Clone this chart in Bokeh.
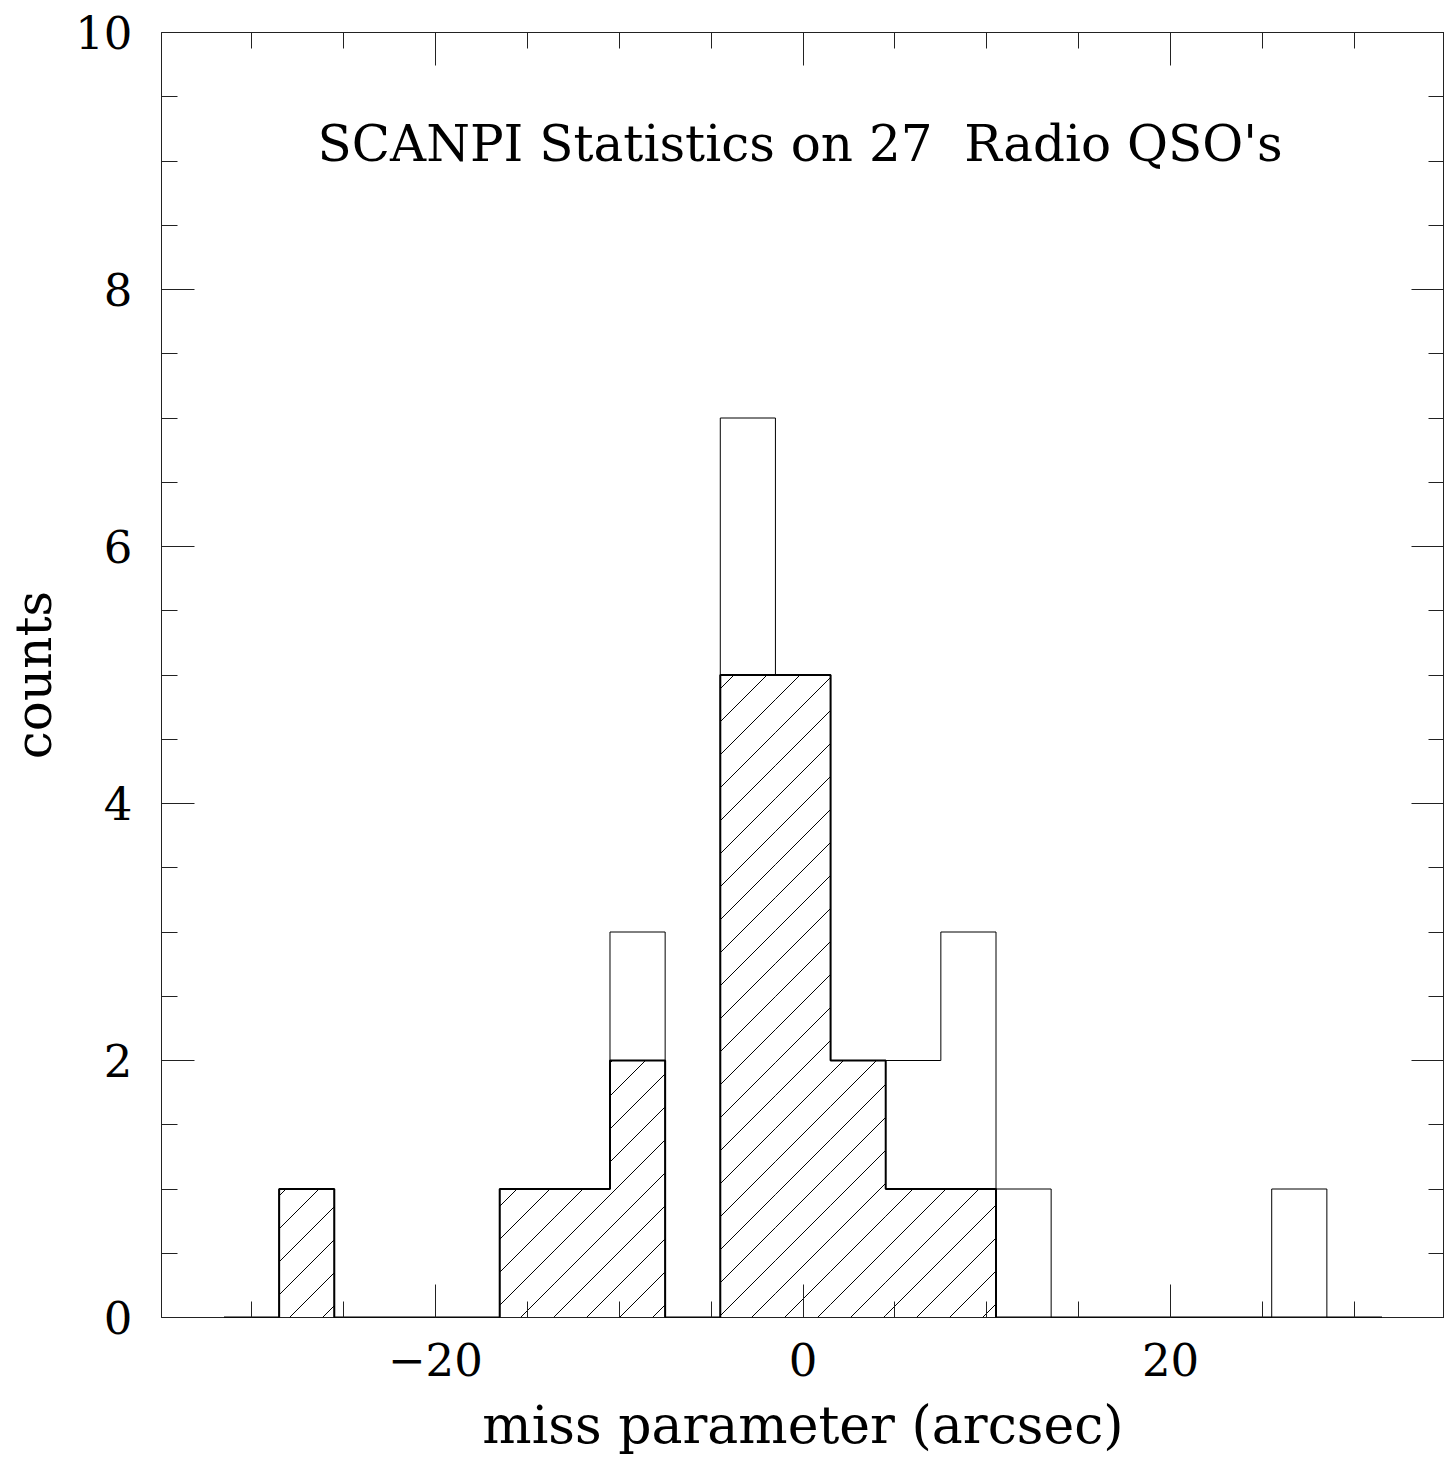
import math
from bokeh.plotting import figure
from bokeh.models import Range1d, LinearAxis, SingleIntervalTicker, Label
from bokeh.embed import file_html
from bokeh.resources import INLINE

# ---- data ----
bin_centers = [-30, -27, -24, -21, -18, -15, -12, -9, -6, -3, 0, 3, 6, 9, 12, 15, 18, 21, 24, 27, 30]
bin_width = 3
all_counts = [0, 1, 0, 0, 0, 1, 1, 3, 0, 7, 5, 2, 2, 3, 1, 0, 0, 0, 0, 1, 0]
hatched_counts = [0, 1, 0, 0, 0, 1, 1, 2, 0, 5, 5, 2, 1, 1, 0, 0, 0, 0, 0, 0, 0]
x_tick_labels = {-20: "\u221220", 0: "0", 20: "20"}
title_text = "SCANPI Statistics on 27\u00a0 Radio QSO's"
x_label = "miss parameter (arcsec)"
y_label = "counts"

FONT = "DejaVu Serif"
X0, X1 = -34.9, 34.9
Y0, Y1 = 0, 10
FW, FH = 1283, 1285

lefts = [c - bin_width / 2 for c in bin_centers]
rights = [c + bin_width / 2 for c in bin_centers]


def step_xy(counts):
    xs = [lefts[0]] + lefts + [rights[-1]]
    ys = [0] + list(counts) + [0]
    return xs, ys


# 45-degree hatch lines (in screen space) clipped to each hatched bar
sx = FW / (X1 - X0)
sy = FH / (Y1 - Y0)
spacing = 33.0
phase = 29.0
hx0, hy0, hx1, hy1 = [], [], [], []
for l, r, h in zip(lefts, rights, hatched_counts):
    if h <= 0:
        continue
    Xl, Xr, Yt = (l - X0) * sx, (r - X0) * sx, h * sy
    k = math.floor((Xl - Yt - phase) / spacing)
    while True:
        c = phase + k * spacing
        if c > Xr:
            break
        ylo = max(0.0, Xl - c)
        yhi = min(Yt, Xr - c)
        if yhi > ylo:
            hx0.append((c + ylo) / sx + X0)
            hy0.append(ylo / sy)
            hx1.append((c + yhi) / sx + X0)
            hy1.append(yhi / sy)
        k += 1

p = figure(frame_width=FW, frame_height=FH,
           x_range=Range1d(X0, X1), y_range=Range1d(Y0, Y1),
           output_backend="svg", toolbar_location=None,
           x_axis_location=None, y_axis_location=None,
           min_border_left=161, min_border_right=0, min_border_top=32, min_border_bottom=0)
p.background_fill_color = "white"
p.border_fill_color = "white"
p.grid.visible = False
p.outline_line_color = "#222222"
p.outline_line_width = 1


def style(ax, show_labels, label_size="50px"):
    ax.axis_line_color = None
    ax.major_tick_in = 33
    ax.major_tick_out = 0
    ax.minor_tick_in = 16
    ax.minor_tick_out = 0
    ax.major_tick_line_color = "#222222"
    ax.minor_tick_line_color = "#222222"
    ax.major_tick_line_width = 1
    ax.minor_tick_line_width = 1
    if show_labels:
        ax.major_label_text_font = FONT
        ax.major_label_text_font_size = "45px"
        ax.major_label_text_color = "black"
        ax.axis_label_text_font = FONT
        ax.axis_label_text_font_size = label_size
        ax.axis_label_text_font_style = "normal"
        ax.axis_label_text_color = "black"
    else:
        ax.major_label_text_font_size = "1px"
        ax.major_label_text_color = None
        ax.major_label_standoff = 0


xb = LinearAxis(ticker=SingleIntervalTicker(interval=20, num_minor_ticks=4),
                axis_label=x_label, major_label_overrides=x_tick_labels)
style(xb, True, "52px")
xb.major_label_standoff = 25
xb.axis_label_standoff = 16
p.add_layout(xb, "below")

yl = LinearAxis(ticker=SingleIntervalTicker(interval=2, num_minor_ticks=4), axis_label=y_label)
style(yl, True, "50px")
yl.major_label_standoff = 29
yl.axis_label_standoff = 9
p.add_layout(yl, "left")

xa = LinearAxis(ticker=SingleIntervalTicker(interval=20, num_minor_ticks=4))
style(xa, False)
p.add_layout(xa, "above")

yr = LinearAxis(ticker=SingleIntervalTicker(interval=2, num_minor_ticks=4))
style(yr, False)
p.add_layout(yr, "right")

# hatch of the sub-sample
p.segment(x0=hx0, y0=hy0, x1=hx1, y1=hy1, line_color="black", line_width=1)

sx_, sy_ = step_xy(hatched_counts)
p.step(sx_, sy_, mode="after", line_color="black", line_width=2)

ax_, ay_ = step_xy(all_counts)
p.step(ax_, ay_, mode="after", line_color="black", line_width=1)

p.add_layout(Label(x=-0.16, y=9.13, text=title_text, text_font=FONT, text_font_size="50px",
                   text_align="center", text_baseline="alphabetic", text_color="black"))

open("out.html", "w").write(file_html(p, INLINE))
